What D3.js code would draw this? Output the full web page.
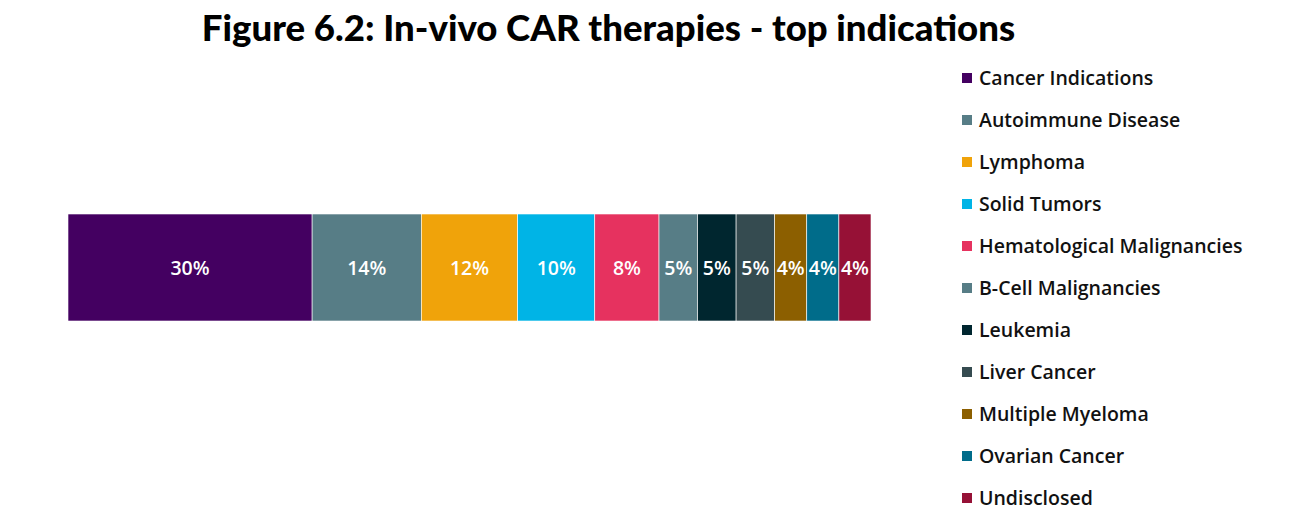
<!DOCTYPE html>
<html><head><meta charset="utf-8">
<script src="https://cdn.jsdelivr.net/npm/d3@7"></script>
<style>
body{margin:0;background:#fff;}
svg{display:block;}
</style></head><body>
<svg id="c" width="1290" height="522"></svg>
<script>
const categories = ["Cancer Indications","Autoimmune Disease","Lymphoma","Solid Tumors","Hematological Malignancies","B-Cell Malignancies","Leukemia","Liver Cancer","Multiple Myeloma","Ovarian Cancer","Undisclosed"];
const values = [30.4,13.6,12.0,9.6,8.0,4.8,4.8,4.8,4.0,4.0,4.0];
const labels = ["30%","14%","12%","10%","8%","5%","5%","5%","4%","4%","4%"];
const colors = ["#440061","#577d86","#f0a30a","#00b4e6","#e6325f","#577d86","#00262f","#354b50","#8c5f00","#006c8a","#961136"];
const title = "Figure 6.2: In-vivo CAR therapies - top indications";

const svg = d3.select("#c");
const total = d3.sum(values);
const x = d3.scaleLinear().domain([0,total]).range([68,871]);
const y = d3.scaleBand().domain(["all"]).range([214,321]).padding(0);

let cum = 0;
const segs = values.map((v,i)=>{const s={i,start:cum,end:cum+v}; cum+=v; return s;});

svg.append("text").attr("x",608.5).attr("y",41).attr("text-anchor","middle")
  .attr("font-family","Lato, sans-serif").attr("font-weight",900).attr("font-size",36.6)
  .attr("fill","#000").text(title);

const g = svg.append("g");
g.selectAll("rect").data(segs).enter().append("rect")
  .attr("x",d=>x(d.start)).attr("width",d=>x(d.end)-x(d.start))
  .attr("y",y("all")).attr("height",y.bandwidth())
  .attr("fill",d=>colors[d.i]).attr("stroke","#fff").attr("stroke-width",0.6);
g.selectAll("text").data(segs).enter().append("text")
  .attr("x",d=>(x(d.start)+x(d.end))/2).attr("y",y("all")+y.bandwidth()/2)
  .attr("dy","0.36em").attr("text-anchor","middle")
  .attr("font-family","'Open Sans', sans-serif").attr("font-weight",600).attr("font-size",19.5)
  .attr("fill","#fff").text(d=>labels[d.i]);

const ly = d3.scalePoint().domain(categories).range([78,498]);
const lg = svg.append("g");
const items = lg.selectAll("g").data(categories).enter().append("g")
  .attr("transform",d=>`translate(962,${ly(d)})`);
items.append("rect").attr("x",0).attr("y",-5).attr("width",10).attr("height",10)
  .attr("fill",(d,i)=>colors[i]);
items.append("text").attr("x",17).attr("y",0).attr("dy","0.36em")
  .attr("font-family","'Open Sans', sans-serif").attr("font-weight",600).attr("font-size",19.5)
  .attr("fill","#111").text(d=>d);
</script>
</body></html>
